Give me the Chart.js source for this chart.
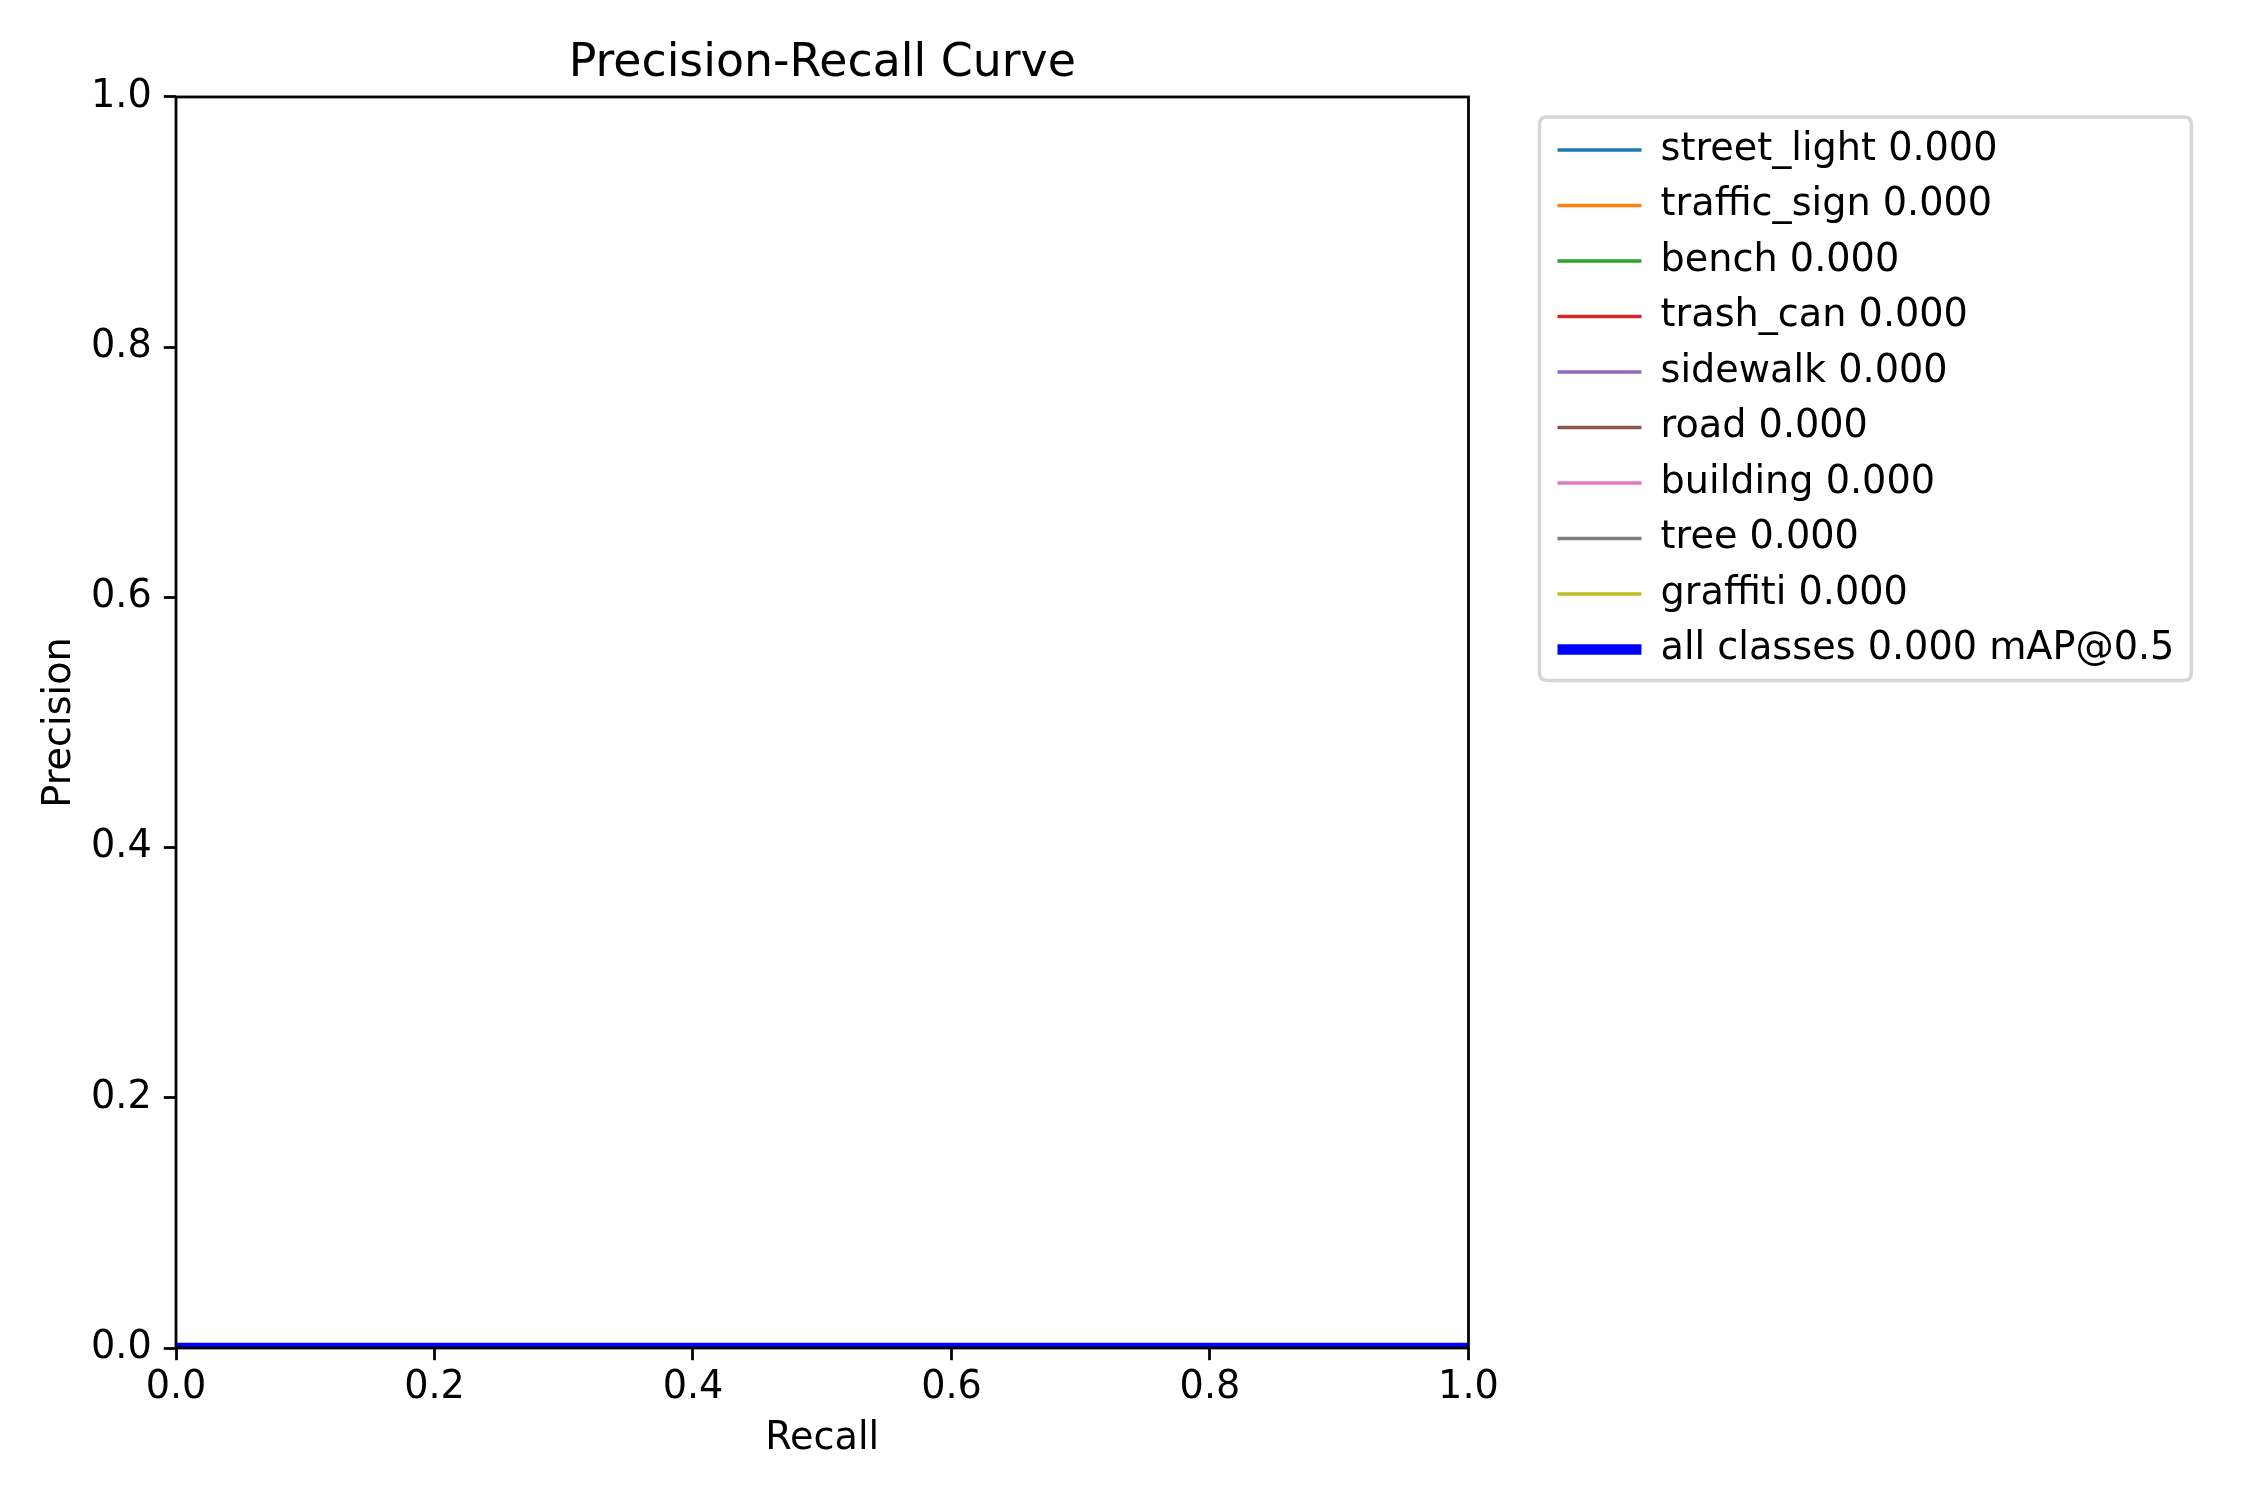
<!DOCTYPE html>
<html>
<head>
<meta charset="utf-8">
<script src="https://cdn.jsdelivr.net/npm/chart.js@4.4.1/dist/chart.umd.min.js"></script>
<style>
  html, body { margin: 0; padding: 0; background: #ffffff; }
  #wrap { width: 2250px; height: 1500px; position: relative; }
</style>
</head>
<body>
<div id="wrap"><canvas id="c"></canvas></div>
<script>
// ---- data ----
const recall = [0.0, 1.0];
const classNames = ['street_light', 'traffic_sign', 'bench', 'trash_can', 'sidewalk', 'road', 'building', 'tree', 'graffiti'];
const classAP = [0.000, 0.000, 0.000, 0.000, 0.000, 0.000, 0.000, 0.000, 0.000];
const classPrecision = [
  [0.0, 0.0], [0.0, 0.0], [0.0, 0.0], [0.0, 0.0], [0.0, 0.0],
  [0.0, 0.0], [0.0, 0.0], [0.0, 0.0], [0.0, 0.0]
];
const allPrecision = [0.0, 0.0];
const allMAP50 = 0.000;
const xTickLabels = ['0.0', '0.2', '0.4', '0.6', '0.8', '1.0'];
const yTickLabels = ['0.0', '0.2', '0.4', '0.6', '0.8', '1.0'];

// ---- styles ----
const classColors = ['#1f77b4', '#ff7f0e', '#2ca02c', '#d62728', '#9467bd', '#8c564b', '#e377c2', '#7f7f7f', '#bcbd22'];
const FONT = 'DejaVu Sans';
const BASE = 38.2;     // 11pt @ 250 dpi
const TITLE = 45.8;    // large
const THIN = 3.47;
const THICK = 10.4;
const SPINE = 2.78;

Chart.defaults.color = '#000000';
Chart.defaults.font.family = FONT;

const toPts = (xs, ys) => xs.map((x, i) => ({ x: x, y: ys[i] }));

const datasets = classNames.map((name, i) => ({
  label: name + ' ' + classAP[i].toFixed(3),
  data: toPts(recall, classPrecision[i]),
  borderColor: classColors[i],
  backgroundColor: classColors[i],
  borderWidth: THIN,
  pointRadius: 0,
  pointStyle: 'line',
  clip: 0,
  order: 1
}));
datasets.push({
  label: 'all classes ' + allMAP50.toFixed(3) + ' mAP@0.5',
  data: toPts(recall, allPrecision),
  borderColor: '#0000ff',
  backgroundColor: '#0000ff',
  borderWidth: THICK,
  pointRadius: 0,
  pointStyle: 'line',
  clip: 0,
  order: 0
});

const framePlugin = {
  id: 'frame',
  afterDatasetsDraw(chart) {
    const a = chart.chartArea, ctx = chart.ctx;
    ctx.save();
    ctx.strokeStyle = '#000000';
    ctx.lineWidth = SPINE;
    ctx.strokeRect(a.left, a.top, a.right - a.left, a.bottom - a.top);
    ctx.restore();
  },
  afterDraw(chart) {
    const lg = chart.legend;
    if (!lg || !lg.legendHitBoxes || !lg.legendHitBoxes.length) return;
    const hb = lg.legendHitBoxes;
    const first = hb[0], last = hb[hb.length - 1];
    let maxRight = 0;
    hb.forEach(h => { maxRight = Math.max(maxRight, h.left + h.width); });
    const x0 = first.left - 18;
    const y0 = first.top - 13.9;
    const x1 = maxRight + 17;
    const y1 = last.top + last.height + 11.9;
    const r = 7.6;
    const ctx = chart.ctx;
    ctx.save();
    ctx.strokeStyle = '#d6d6d6';
    ctx.lineWidth = THIN;
    ctx.beginPath();
    ctx.moveTo(x0 + r, y0);
    ctx.lineTo(x1 - r, y0);
    ctx.quadraticCurveTo(x1, y0, x1, y0 + r);
    ctx.lineTo(x1, y1 - r);
    ctx.quadraticCurveTo(x1, y1, x1 - r, y1);
    ctx.lineTo(x0 + r, y1);
    ctx.quadraticCurveTo(x0, y1, x0, y1 - r);
    ctx.lineTo(x0, y0 + r);
    ctx.quadraticCurveTo(x0, y0, x0 + r, y0);
    ctx.closePath();
    ctx.stroke();
    ctx.restore();
  }
};

new Chart(document.getElementById('c'), {
  type: 'line',
  data: { datasets: datasets },
  plugins: [framePlugin],
  options: {
    responsive: true,
    maintainAspectRatio: false,
    devicePixelRatio: 1,
    animation: false,
    layout: { padding: { top: 0, right: 65.6, bottom: 0, left: 0 } },
    plugins: {
      tooltip: { enabled: false },
      title: {
        display: true,
        text: 'Precision-Recall Curve',
        fullSize: false,
        font: { family: FONT, size: TITLE, weight: 'normal', lineHeight: 1.2 },
        color: '#000000',
        padding: { top: 36.5, bottom: 5.5 }
      },
      legend: {
        display: true,
        position: 'right',
        align: 'start',
        fullSize: false,
        maxWidth: 800,
        title: { display: true, text: '', font: { size: 10, lineHeight: 1 }, padding: { top: 0, bottom: 6.6 } },
        labels: {
          usePointStyle: true,
          pointStyleWidth: 84,
          padding: 17.3,
          color: '#000000',
          font: { family: FONT, size: BASE },
          sort: (a, b) => a.datasetIndex - b.datasetIndex
        }
      }
    },
    scales: {
      x: {
        type: 'linear',
        position: 'bottom',
        min: 0, max: 1,
        afterFit: (s) => { s.height = 152; },
        ticks: {
          stepSize: 0.2,
          padding: 4.5,
          maxRotation: 0,
          font: { family: FONT, size: BASE },
          color: '#000000',
          callback: (v, i) => xTickLabels[i]
        },
        grid: { display: true, drawOnChartArea: false, drawTicks: true, tickLength: 12.2, tickWidth: SPINE, tickColor: '#000000' },
        border: { display: false },
        title: { display: true, text: 'Recall', color: '#000000', font: { family: FONT, size: BASE }, padding: { top: 0, bottom: 38 } }
      },
      y: {
        type: 'linear',
        position: 'left',
        min: 0, max: 1,
        afterFit: (s) => { s.width = 176; },
        ticks: {
          stepSize: 0.2,
          padding: 12,
          font: { family: FONT, size: BASE },
          color: '#000000',
          callback: (v, i) => yTickLabels[i]
        },
        grid: { display: true, drawOnChartArea: false, drawTicks: true, tickLength: 12.2, tickWidth: SPINE, tickColor: '#000000' },
        border: { display: false },
        title: { display: true, text: 'Precision', color: '#000000', font: { family: FONT, size: BASE }, padding: { top: 37.1, bottom: 0 } }
      },
      ySpacer: {
        type: 'linear',
        position: 'right',
        min: 0, max: 1,
        display: true,
        afterFit: (s) => { s.width = 71.7; },
        ticks: { display: false },
        grid: { display: false },
        border: { display: false }
      }
    }
  }
});
</script>
</body>
</html>
